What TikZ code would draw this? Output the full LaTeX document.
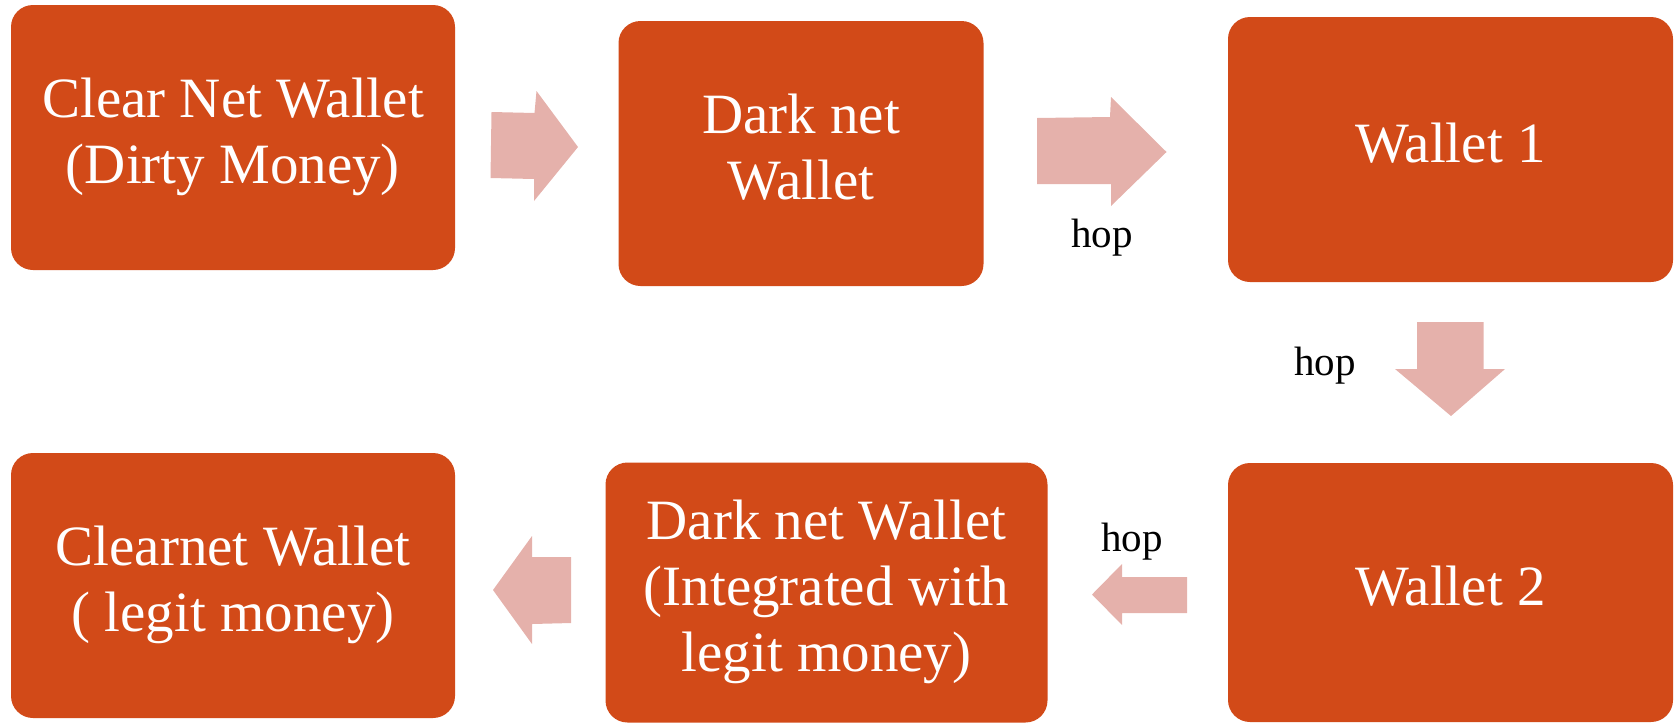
\documentclass[tikz,border=0pt]{standalone}
\usepackage{fontspec}
\setmainfont{Liberation Serif}
\definecolor{boxfill}{HTML}{D24A18}
\definecolor{hopfill}{HTML}{E5B1AB}
\begin{document}
\begin{tikzpicture}[x=0.5pt,y=-0.5pt,
  wallet/.style={fill=boxfill, rounded corners=11pt, text=white, align=center,
    inner sep=0pt, font=\fontsize{28.5}{33}\selectfont},
  hoparrow/.style={fill=hopfill, draw=none},
  hoplabel/.style={anchor=base, inner sep=0pt, font=\fontsize{20.5}{24}\selectfont}]
\useasboundingbox (0,0) rectangle (1679,723);

% wallets
\node[wallet, minimum width=222pt, minimum height=132.5pt] (clear) at (233,137.5)
  {\strut Clear Net Wallet\\\strut (Dirty Money)};
\node[wallet, minimum width=182.5pt, minimum height=132.5pt] (dark) at (801,153.5)
  {\strut Dark net\\\strut Wallet};
\node[wallet, minimum width=222.5pt, minimum height=132.5pt] (w1) at (1450.5,149.5)
  {\strut Wallet 1};
\node[wallet, minimum width=222.5pt, minimum height=129.5pt] (w2) at (1450.5,592.5)
  {\strut Wallet 2};
\node[wallet, minimum width=221pt, minimum height=130pt] (darkint) at (826.5,592.5)
  {\strut Dark net Wallet\\\strut (Integrated with\\\strut legit money)};
\node[wallet, minimum width=222pt, minimum height=132.5pt] (clearnet) at (233,585.5)
  {\strut Clearnet Wallet\\\strut ( legit money)};

% block arrows between wallets
\fill[hoparrow] (491.5,112) -- (534.5,113) -- (536.5,91) -- (578,147) -- (534,201)
  -- (534,179) -- (490.5,178) -- cycle;
\fill[hoparrow] (1037,118) -- (1110,117) -- (1111,97) -- (1166.5,152) -- (1111,206)
  -- (1111,184) -- (1037,184) -- cycle;
\fill[hoparrow] (1417,322) -- (1483.5,322) -- (1483.5,369) -- (1505,369) -- (1451,416)
  -- (1395,369) -- (1417,369) -- cycle;
\fill[hoparrow] (1187,577) -- (1122,577) -- (1122,564) -- (1092,594.5) -- (1122,625)
  -- (1122,613) -- (1187,613) -- cycle;
\fill[hoparrow] (571,557) -- (532,557) -- (532,536) -- (493,590) -- (532,644)
  -- (532,624) -- (571,623) -- cycle;

% hop labels
\node[hoplabel] (hop1) at (1102,247) {hop};
\node[hoplabel] (hop2) at (1325,375) {hop};
\node[hoplabel] (hop3) at (1132,551) {hop};
\end{tikzpicture}
\end{document}
